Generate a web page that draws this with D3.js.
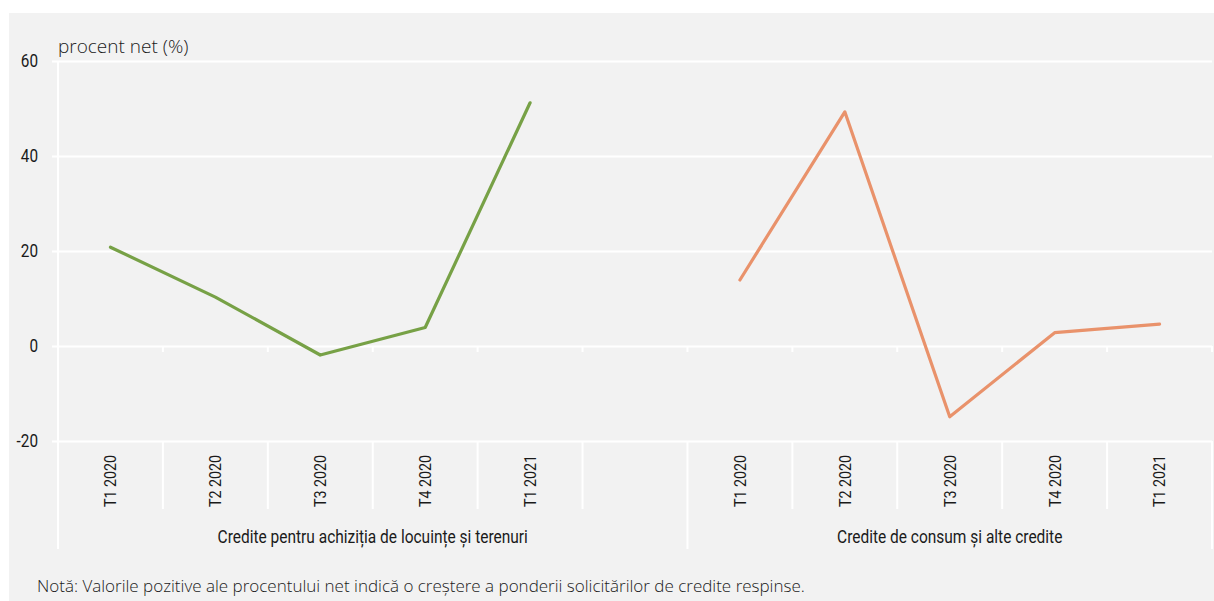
<!DOCTYPE html>
<html>
<head>
<meta charset="utf-8">
<script src="https://cdn.jsdelivr.net/npm/d3@7"></script>
<style>
  html, body { margin: 0; padding: 0; background: #ffffff; }
  svg { display: block; }
  .cond { font-family: "Roboto", "Liberation Sans", sans-serif; }
  .reg { font-family: "Open Sans", "Noto Sans", sans-serif; }
</style>
</head>
<body>
<svg id="chart" width="1214" height="601"></svg>
<script>
// ---- data ----
const periods = ["T1 2020", "T2 2020", "T3 2020", "T4 2020", "T1 2021"];
const groups = ["Credite pentru achiziția de locuințe și terenuri", "Credite de consum și alte credite"];
const housing = [20.8, 10.3, -1.9, 3.9, 51.2];
const consumer = [13.9, 49.3, -14.9, 2.8, 4.6];
const yTicks = [-20, 0, 20, 40, 60];
const yTitle = "procent net (%)";
const note = "Notă: Valorile pozitive ale procentului net indică o creștere a ponderii solicitărilor de credite respinse.";

(function () {
const W = 1214, H = 601;
const pL = 58, pR = 1212, pT = 61, pB = 441;
const svg = d3.select("#chart");

function condense(sel, k) {
  sel.each(function () {
    const n = this.getComputedTextLength();
    if (n > 0) d3.select(this).attr("textLength", n * k).attr("lengthAdjust", "spacingAndGlyphs");
  });
}

svg.append("rect").attr("x", 9).attr("y", 13).attr("width", W - 9).attr("height", H - 13).attr("fill", "#f2f2f2");

const keysA = periods.map(p => "A|" + p);
const keysB = periods.map(p => "B|" + p);
const domain = keysA.concat(["gap"], keysB);
const x = d3.scaleBand().domain(domain).range([pL, pR]).padding(0);
const y = d3.scaleLinear().domain([-20, 60]).range([pB, pT]);

// y axis with gridlines
const yAxis = d3.axisLeft(y).tickValues(yTicks).tickSize(-(pR - pL)).tickFormat(d => String(d));
const gy = svg.append("g").attr("transform", `translate(${pL},0)`).call(yAxis);
gy.select(".domain").remove();
gy.selectAll(".tick line").attr("x1", -6).attr("x2", pR - pL).attr("stroke", "#ffffff").attr("stroke-width", 2);
gy.selectAll(".tick text").attr("class", "cond").attr("font-size", 18).attr("fill", "#1a1a1a").attr("x", -20);
condense(gy.selectAll(".tick text"), 0.85);

// vertical axis line
svg.append("line").attr("x1", pL).attr("x2", pL).attr("y1", pT).attr("y2", 549)
  .attr("stroke", "#ffffff").attr("stroke-width", 2);

const boundaries = domain.map(k => x(k)).concat([pR]);
svg.append("g").selectAll("line").data(boundaries.slice(1)).join("line")
  .attr("x1", d => d).attr("x2", d => d).attr("y1", y(0)).attr("y2", y(0) + 6)
  .attr("stroke", "#ffffff").attr("stroke-width", 2);

const groupEdges = [pL, x("B|" + periods[0]), pR];
svg.append("g").selectAll("line").data(boundaries.slice(1)).join("line")
  .attr("x1", d => d).attr("x2", d => d).attr("y1", pB).attr("y2", d => groupEdges.some(g => Math.abs(g - d) < 0.5) ? 549 : 509)
  .attr("stroke", "#ffffff").attr("stroke-width", 2);

const xAxis = d3.axisBottom(x).tickSize(0).tickFormat(k => k === "gap" ? "" : k.split("|")[1]);
const gx = svg.append("g").attr("transform", `translate(0,${pB})`).call(xAxis);
gx.select(".domain").remove();
gx.selectAll(".tick text")
  .attr("class", "cond").attr("font-size", 17).attr("fill", "#1a1a1a")
  .attr("transform", "rotate(-90)")
  .attr("x", -40).attr("y", 0).attr("dy", "0.35em")
  .attr("text-anchor", "middle");
condense(gx.selectAll(".tick text"), 0.84);

const groupCenters = [(groupEdges[0] + groupEdges[1]) / 2, (groupEdges[1] + groupEdges[2]) / 2];
const gl = svg.append("g").selectAll("text").data(groups).join("text")
  .attr("class", "cond").attr("font-size", 19).attr("fill", "#1a1a1a")
  .attr("x", (d, i) => groupCenters[i]).attr("y", 543).attr("text-anchor", "middle")
  .text(d => d);
condense(gl, 0.815);

const line = d3.line().x(d => x(d.k) + x.bandwidth() / 2).y(d => y(d.v));
svg.append("path").datum(housing.map((v, i) => ({ k: keysA[i], v })))
  .attr("d", line).attr("fill", "none").attr("stroke", "#77a146").attr("stroke-width", 3.2)
  .attr("stroke-linejoin", "round").attr("stroke-linecap", "round");
svg.append("path").datum(consumer.map((v, i) => ({ k: keysB[i], v })))
  .attr("d", line).attr("fill", "none").attr("stroke", "#e9926b").attr("stroke-width", 3.2)
  .attr("stroke-linejoin", "round").attr("stroke-linecap", "round");

svg.append("text").attr("class", "reg").attr("font-size", 19).attr("font-weight", 300).attr("fill", "#1a1a1a")
  .attr("x", 58).attr("y", 53).text(yTitle);

svg.append("text").attr("class", "reg").attr("font-size", 17).attr("font-weight", 300).attr("fill", "#1a1a1a")
  .attr("x", 37).attr("y", 592).text(note);
})();
</script>
</body>
</html>
